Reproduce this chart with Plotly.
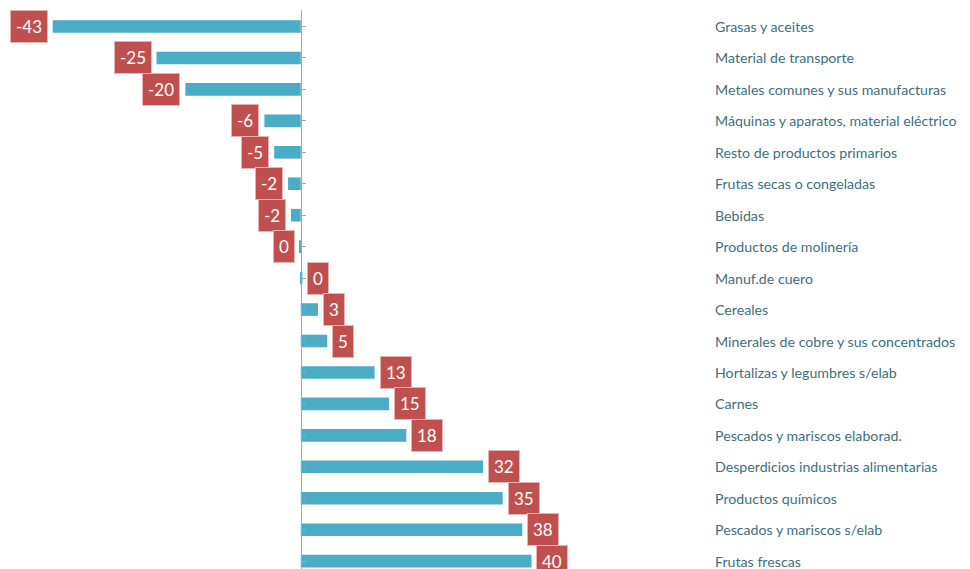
"""Variación por producto: barras horizontales con etiquetas de valor."""

import plotly.graph_objects as go

categories = [
    "Grasas y aceites",
    "Material de transporte",
    "Metales comunes y sus manufacturas",
    "Máquinas y aparatos, material eléctrico",
    "Resto de productos primarios",
    "Frutas secas o congeladas",
    "Bebidas",
    "Productos de molinería",
    "Manuf.de cuero",
    "Cereales",
    "Minerales de cobre y sus concentrados",
    "Hortalizas y legumbres s/elab",
    "Carnes",
    "Pescados y mariscos elaborad.",
    "Desperdicios industrias alimentarias",
    "Productos químicos",
    "Pescados y mariscos s/elab",
    "Frutas frescas",
]
values = [-43.0, -25.0, -20.0, -6.3, -4.6, -2.2, -1.7, -0.2, 0.3, 3.0,
          4.6, 12.8, 15.3, 18.3, 31.6, 35.0, 38.4, 40.0]
value_labels = ["-43", "-25", "-20", "-6", "-5", "-2", "-2", "0", "0", "3",
                "5", "13", "15", "18", "32", "35", "38", "40"]

BAR = "#4bacc6"
BOX = "#c0504d"
TEXT = "#3f6f7b"

x_min, x_max = -50.75, 70.6
zero_pos = (0 - x_min) / (x_max - x_min)

fig = go.Figure(
    go.Bar(
        x=values,
        y=categories,
        orientation="h",
        marker=dict(color=BAR, line=dict(width=0)),
        width=0.4,
        hoverinfo="x+y",
    )
)

# value boxes at the bar ends
for cat, v, lab in zip(categories, values, value_labels):
    fig.add_annotation(
        x=v, y=cat, text=lab, showarrow=False,
        xanchor="right" if v < 0 else "left",
        xshift=-5 if v < 0 else 5,
        font=dict(family="Lato, sans-serif", size=17, color="white"),
        bgcolor=BOX, bordercolor="#e8b4b3", borderwidth=1, borderpad=5,
    )

# category names on the right
for cat in categories:
    fig.add_annotation(
        x=1, xref="paper", y=cat, text=cat, showarrow=False,
        xanchor="left", xshift=5,
        font=dict(family="Lato, sans-serif", size=14.2, color=TEXT),
    )

fig.update_layout(
    width=962, height=561,
    plot_bgcolor="white", paper_bgcolor="white",
    showlegend=False,
    margin=dict(l=0, r=262, t=2, b=0),
    xaxis=dict(range=[x_min, x_max], visible=False, zeroline=False,
               showgrid=False),
    yaxis=dict(
        categoryorder="array", categoryarray=categories,
        range=[17.25, -0.525],
        anchor="free", position=zero_pos, side="right",
        showline=True, linecolor="#a6a6a6", linewidth=1,
        ticks="outside", ticklen=4, tickcolor="#a6a6a6",
        showticklabels=False, showgrid=False, zeroline=False,
    ),
)

fig.write_html("out.html")
